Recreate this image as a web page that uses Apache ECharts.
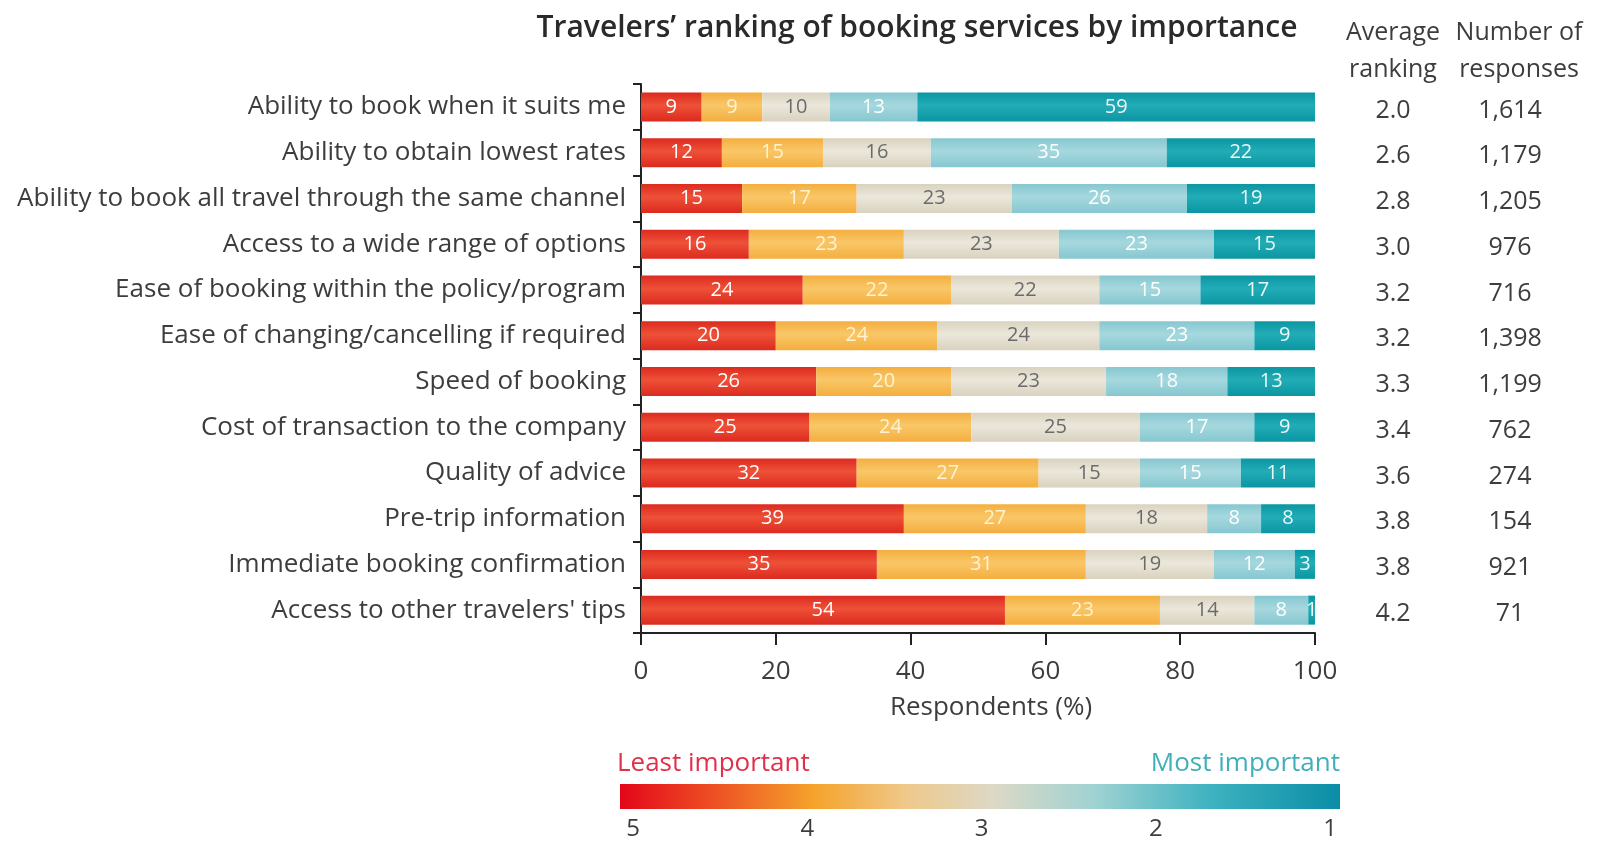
<!DOCTYPE html>
<html>
<head>
<meta charset="utf-8">
<title>Travelers' ranking of booking services by importance</title>
<script src="https://cdn.jsdelivr.net/npm/echarts@6/dist/echarts.min.js"></script>
<style>
  html, body { margin: 0; padding: 0; background: #ffffff; }
  #chart { width: 1601px; height: 841px; }
</style>
</head>
<body>
<div id="chart"></div>
<script>
// Booking services, listed from most to least important on average
const services = [
  'Ability to book when it suits me',
  'Ability to obtain lowest rates',
  'Ability to book all travel through the same channel',
  'Access to a wide range of options',
  'Ease of booking within the policy/program',
  'Ease of changing/cancelling if required',
  'Speed of booking',
  'Cost of transaction to the company',
  'Quality of advice',
  'Pre-trip information',
  'Immediate booking confirmation',
  "Access to other travelers' tips"
];

// Share of respondents (%) giving each rank (5 = least important, 1 = most important)
const rank5 = [9, 12, 15, 16, 24, 20, 26, 25, 32, 39, 35, 54];
const rank4 = [9, 15, 17, 23, 22, 24, 20, 24, 27, 27, 31, 23];
const rank3 = [10, 16, 23, 23, 22, 24, 23, 25, 15, 18, 19, 14];
const rank2 = [13, 35, 26, 23, 15, 23, 18, 17, 15, 8, 12, 8];
const rank1 = [59, 22, 19, 15, 17, 9, 13, 9, 11, 8, 3, 1];

const averageRanking = ['2.0', '2.6', '2.8', '3.0', '3.2', '3.2', '3.3', '3.4', '3.6', '3.8', '3.8', '4.2'];
const responses = ['1,614', '1,179', '1,205', '976', '716', '1,398', '1,199', '762', '274', '154', '921', '71'];

const xTicks = [0, 20, 40, 60, 80, 100];
const scaleTicks = [5, 4, 3, 2, 1];

const FONT = '"Open Sans", "DejaVu Sans", sans-serif';
const TEXT = '#3d3d3d';

// Glossy horizontal band: darker edges, lighter centre
function band(edge, mid) {
  return {
    type: 'linear', x: 0, y: 0, x2: 0, y2: 1,
    colorStops: [
      { offset: 0, color: edge },
      { offset: 0.45, color: mid },
      { offset: 1, color: edge }
    ]
  };
}

const rankSeries = [
  { name: '5', data: rank5, color: band('#dc2a1f', '#ee5138'), label: '#ffffff' },
  { name: '4', data: rank4, color: band('#f4ae3f', '#f9c768'), label: '#fff3cf' },
  { name: '3', data: rank3, color: band('#d9d2bf', '#ebe7da'), label: '#6b6b6b' },
  { name: '2', data: rank2, color: band('#86c7d0', '#a6d8de'), label: '#ffffff' },
  { name: '1', data: rank1, color: band('#0a96a2', '#22acb6'), label: '#eaf8f8' }
].map(s => ({
  name: s.name,
  type: 'bar',
  stack: 'share',
  barWidth: 29,
  data: s.data,
  itemStyle: { color: s.color },
  label: {
    show: true,
    position: 'inside',
    color: s.label,
    fontFamily: FONT,
    fontSize: 20
  },
  emphasis: { disabled: true }
}));

// Stand-in series for the rank scale axis below the chart
rankSeries.push({
  type: 'scatter',
  xAxisIndex: 1,
  yAxisIndex: 3,
  data: [],
  silent: true
});

// Right-hand table columns, nudged a little below the bar centre line
const columnText = {
  v: { fontFamily: FONT, fontSize: 25, color: TEXT, padding: [7, 0, 0, 0] }
};

const chart = echarts.init(document.getElementById('chart'), null, { renderer: 'canvas' });

chart.setOption({
  backgroundColor: '#ffffff',
  animation: false,
  textStyle: { fontFamily: FONT },
  title: [
    {
      text: 'Travelers\u2019 ranking of booking services by importance',
      left: 912, top: 8, textAlign: 'center',
      textStyle: { fontFamily: FONT, fontSize: 30, fontWeight: 600, color: '#2a2a2a' }
    },
    {
      text: 'Average\nranking',
      left: 1388, top: 9, textAlign: 'center',
      textStyle: { fontFamily: FONT, fontSize: 25, fontWeight: 'normal', color: TEXT, lineHeight: 37 }
    },
    {
      text: 'Number of\nresponses',
      left: 1514, top: 9, textAlign: 'center',
      textStyle: { fontFamily: FONT, fontSize: 25, fontWeight: 'normal', color: TEXT, lineHeight: 37 }
    }
  ],
  grid: [
    { left: 641, right: 286, top: 84, bottom: 208 },
    { left: 633, right: 271, top: 784, height: 25 }
  ],
  xAxis: [
    {
      type: 'value', gridIndex: 0, min: 0, max: 100, interval: 20,
      name: 'Respondents (%)', nameLocation: 'middle', nameGap: 62,
      nameTextStyle: { fontFamily: FONT, fontSize: 26, color: TEXT, padding: [0, 0, 0, 26] },
      axisLine: { show: true, lineStyle: { color: '#222', width: 2 } },
      axisTick: { show: true, length: 12, lineStyle: { color: '#222', width: 2 } },
      axisLabel: { fontFamily: FONT, fontSize: 26, color: TEXT, margin: 26,
        formatter: v => xTicks.includes(v) ? String(v) : '' },
      splitLine: { show: false }
    },
    {
      type: 'value', gridIndex: 1, min: 1, max: 5, interval: 1, inverse: true,
      axisLine: { show: false }, axisTick: { show: false }, splitLine: { show: false },
      axisLabel: { fontFamily: FONT, fontSize: 24, color: TEXT, margin: 10,
        formatter: v => scaleTicks.includes(v) ? String(v) : '' }
    }
  ],
  yAxis: [
    {
      type: 'category', gridIndex: 0, data: services, inverse: true,
      axisLine: { show: true, lineStyle: { color: '#222', width: 2 } },
      axisTick: { show: true, length: 8, lineStyle: { color: '#222', width: 2 } },
      axisLabel: { fontFamily: FONT, fontSize: 26, color: TEXT, margin: 15 }
    },
    {
      type: 'category', gridIndex: 0, data: averageRanking, inverse: true, position: 'right',
      axisLine: { show: false }, axisTick: { show: false },
      axisLabel: { margin: 78, align: 'center', formatter: v => '{v|' + v + '}', rich: columnText }
    },
    {
      type: 'category', gridIndex: 0, data: responses, inverse: true, position: 'right',
      axisLine: { show: false }, axisTick: { show: false },
      axisLabel: { margin: 195, align: 'center', formatter: v => '{v|' + v + '}', rich: columnText }
    },
    {
      type: 'value', gridIndex: 1, show: false
    }
  ],
  series: rankSeries,
  graphic: [
    {
      type: 'rect',
      shape: { x: 620, y: 784, width: 720, height: 25 },
      style: {
        fill: {
          type: 'linear', x: 0, y: 0, x2: 1, y2: 0,
          colorStops: [
            { offset: 0, color: '#e3061a' },
            { offset: 0.12, color: '#ec4a23' },
            { offset: 0.27, color: '#f5a32c' },
            { offset: 0.4, color: '#efc98c' },
            { offset: 0.52, color: '#dcd9c6' },
            { offset: 0.66, color: '#9fd2d2' },
            { offset: 0.82, color: '#3eb2c0' },
            { offset: 1, color: '#0a8da6' }
          ]
        }
      },
      silent: true
    },
    {
      type: 'text', left: 617, top: 751,
      style: { text: 'Least important', fontFamily: FONT, fontSize: 26, fill: '#e0304a' },
      silent: true
    },
    {
      type: 'text', right: 261, top: 751,
      style: { text: 'Most important', fontFamily: FONT, fontSize: 26, fill: '#3fb0b8' },
      silent: true
    }
  ]
});
</script>
</body>
</html>
